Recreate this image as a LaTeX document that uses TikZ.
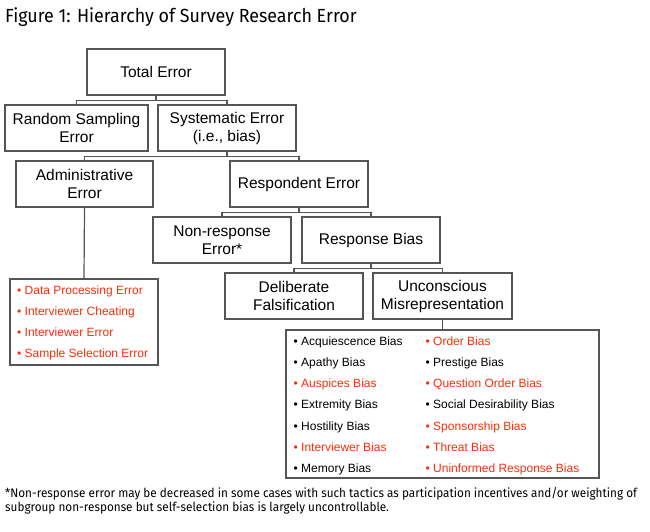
\documentclass[tikz,border=0pt]{standalone}
\usepackage{fontspec}
\setmainfont{Liberation Sans}
\newfontfamily\capfont{Fira Sans}[FakeStretch=0.94]
\definecolor{errred}{RGB}{250,45,10}
\definecolor{linegray}{RGB}{85,85,85}
\begin{document}
\begin{tikzpicture}[x=1pt,y=-1pt,
    box/.style={draw=linegray,line width=1.2pt,minimum width=138pt,minimum height=46pt,
      align=center,inner sep=0pt,font=\fontsize{15.5}{18}\selectfont},
    listbox/.style={draw=linegray,line width=1.2pt,inner sep=0pt},
    item/.style={anchor=base west,inner sep=0pt,font=\fontsize{12}{14}\selectfont},
    tee/.style={draw=linegray,line width=1.2pt}]
  \useasboundingbox (0,0) rectangle (650,531);
  % title
  \node[anchor=base west,inner sep=0pt,font=\capfont\fontsize{19}{22}\selectfont] (title) at (5,22.5)
    {Figure 1: Hierarchy of Survey Research Error};
  % boxes
  \node[box] (tot) at (156,72) {Total Error};
  \node[box,minimum width=143pt] (rse) at (76.5,128) {Random Sampling\\Error};
  \node[box] (sys) at (227,128) {Systematic Error\\(i.e., bias)};
  \node[box,minimum width=137pt] (adm) at (84.5,184) {Administrative\\Error};
  \node[box] (res) at (299,184) {Respondent Error};
  \node[box] (non) at (222,240) {Non-response\\Error*};
  \node[box] (rb) at (371,240) {Response Bias};
  \node[box] (del) at (294,296) {Deliberate\\Falsification};
  \node[box,minimum width=139pt] (unc) at (442.5,296) {Unconscious\\Misrepresentation};
  % lists
  \node[listbox,minimum width=148pt,minimum height=86pt] (admlist) at (84,322) {};
  \node[listbox,minimum width=313pt,minimum height=148pt] (biaslist) at (442.5,404) {};
  \foreach \txt/\col [count=\i] in {Data Processing Error/errred,Interviewer Cheating/errred,
      Interviewer Error/errred,Sample Selection Error/errred}
    \node[item,text=\col] (adm\i) at (17,290+21.3*\i-21.3+4) {\textbullet\ \txt};
  \foreach \txt/\col [count=\i] in {Acquiescence Bias/black,Apathy Bias/black,Auspices Bias/errred,
      Extremity Bias/black,Hostility Bias/black,Interviewer Bias/errred,Memory Bias/black}
    \node[item,text=\col] (bl\i) at (293.5,341+21.3*\i-21.3+4) {\textbullet\ \txt};
  \foreach \txt/\col [count=\i] in {Order Bias/errred,Prestige Bias/black,Question Order Bias/errred,
      Social Desirability Bias/black,Sponsorship Bias/errred,Threat Bias/errred,
      Uninformed Response Bias/errred}
    \node[item,text=\col] (br\i) at (425.5,341+21.3*\i-21.3+4) {\textbullet\ \txt};
  % connectors
  \draw[tee] (tot.south) -- ++(0,4.5) -| (rse.north);
  \draw[tee] (tot.south) -- ++(0,4.5) -| (sys.north);
  \draw[tee] (sys.south) -- ++(0,4.5) -| (adm.north);
  \draw[tee] (sys.south) -- ++(0,4.5) -| (res.north);
  \draw[tee] (res.south) -- ++(0,4.5) -| (non.north);
  \draw[tee] (res.south) -- ++(0,4.5) -| (rb.north);
  \draw[tee] (rb.south) -- ++(0,4.5) -| (del.north);
  \draw[tee] (rb.south) -- ++(0,4.5) -| (unc.north);
  \draw[tee] (adm.south) -- (admlist.north);
  \draw[tee] (unc.south) -- (biaslist.north);
  % footnote
  \node[anchor=base west,inner sep=0pt,align=left,font=\capfont\fontsize{12.5}{14}\selectfont] (note) at (5,511.5)
    {*Non-response error may be decreased in some cases with such tactics as participation incentives and/or weighting of\\
     subgroup non-response but self-selection bias is largely uncontrollable.};
\end{tikzpicture}
\end{document}
